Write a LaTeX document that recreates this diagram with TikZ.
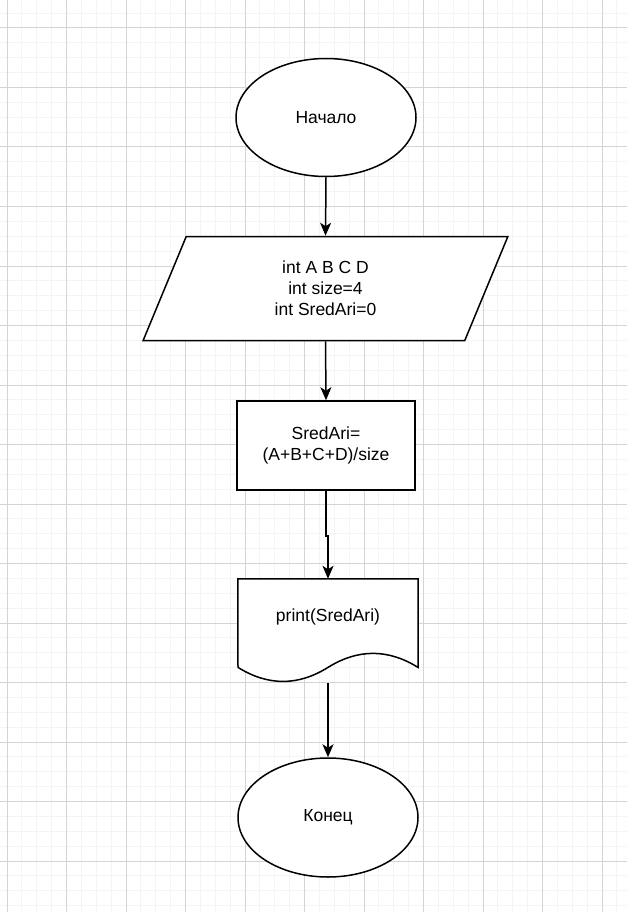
\documentclass[tikz,border=0pt]{standalone}
\usepackage{fontspec}
\setmainfont{Liberation Sans}
\usepackage{tikz}
\usetikzlibrary{arrows.meta,positioning,shapes.geometric,calc}
\definecolor{gridmajor}{RGB}{212,212,212}
\definecolor{gridminor}{RGB}{244,244,244}
\tikzset{
  % text of all blocks
  every node/.append style={font=\fontsize{17.5}{21}\selectfont, text=black, align=center},
  % outline of the blocks
  shapeline/.style={draw=black, line width=1.5pt, fill=white},
  % start / end
  terminal/.style={shapeline, ellipse, minimum width=180, minimum height=118, inner sep=0pt},
  % input block
  io/.style={shapeline, trapezium, trapezium left angle=74, trapezium right angle=106,
    trapezium stretches=true, minimum width=365, minimum height=104, inner sep=0pt},
  % process block
  proc/.style={shapeline, rectangle, minimum width=178, minimum height=89, inner sep=0pt},
  % output block (outline is drawn by hand)
  docbox/.style={rectangle, minimum width=180, minimum height=104, inner sep=0pt},
  % connector
  arr/.style={-{Stealth[length=13pt, width=11pt, inset=3.5pt]}, line width=1.5pt, black},
}

\begin{document}
\begin{tikzpicture}[x=1pt, y=-1pt]
    \useasboundingbox (0,0) rectangle (627,912);
    \fill[white] (0,0) rectangle (627,912);

    % grid
    \foreach \i in {0,...,41}
        \draw[gridminor, line width=1pt] ({7+14.875*\i},0) -- ({7+14.875*\i},912);
    \foreach \j in {0,...,60}
        \draw[gridminor, line width=1pt] (0,{13.125+14.875*\j}) -- (627,{13.125+14.875*\j});
    \foreach \i in {0,...,10}
        \draw[gridmajor, line width=1pt] ({7+59.5*\i},0) -- ({7+59.5*\i},912);
    \foreach \j in {0,...,14}
        \draw[gridmajor, line width=1pt] (0,{28+59.5*\j}) -- (627,{28+59.5*\j});

    % blocks
    \node[terminal] (start) at (326,117.5) {Начало};
    \node[io] (init) at (325.5,288.5) {int A B C D\\int size=4\\int SredAri=0};
    \node[proc] (calc) at (326,445.5) {SredAri=\\(A+B+C+D)/size};
    \node[docbox] (doc) at (328,631) {};
    \draw[shapeline] (doc.north west) -- (doc.north east) -- (418,667.4)
        .. controls (388,648.7) and (358,648.7) .. (328,667.4)
        .. controls (298,686.1) and (268,686.1) .. (238,667.4) -- cycle;
    \node (doctxt) at ([yshift=14pt]doc.center) {print(SredAri)};
    \node[terminal, minimum height=119] (stop) at (328,817.5) {Конец};

    % connectors
    \draw[arr] (start.south) -- (init.north);
    \draw[arr] (init.south) -- (calc.north);
    \draw[arr] (calc.south) -- ++(0,45) -| (doc.north);
    \draw[arr] (doc.south) -- (stop.north);
\end{tikzpicture}
\end{document}
